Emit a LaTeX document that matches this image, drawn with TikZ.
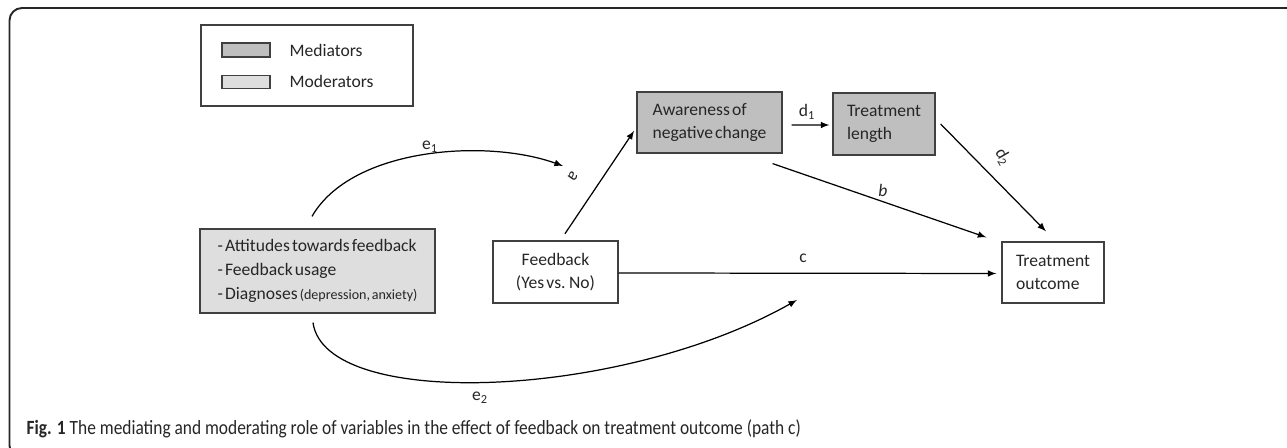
\documentclass[tikz,border=0pt]{standalone}
\usepackage{fontspec}
\setmainfont{Carlito}[WordSpace=0.55]
\newfontfamily\capfont{Carlito}[FakeStretch=0.86]

\begin{document}
\begin{tikzpicture}[>=latex, line width=0.7pt, font=\fontsize{10}{13.5}\selectfont, text=black!85,
    box/.style={draw=black!75, minimum height=1.22cm, inner ysep=0pt, align=left},
    medbox/.style={box, fill=black!25},
    modbox/.style={box, fill=black!13},
    lbl/.style={inner sep=0pt}]
    \useasboundingbox (0,0) rectangle (25.74,8.96);
    \draw[line width=1.1pt, black!85, rounded corners=0.25cm] (26,8.8) -- (0.19,8.8) -- (0.19,-0.2) -- (3,-0.2);

    \node[draw=black!75, minimum width=4.24cm, minimum height=1.62cm] at (6.14,7.65) (leg) {};
    \node[draw=black!75, fill=black!25, minimum width=0.96cm, minimum height=0.28cm, inner sep=0pt] at (4.92,7.96) (swmed) {};
    \node[draw=black!75, fill=black!13, minimum width=0.96cm, minimum height=0.25cm, inner sep=0pt] at (4.92,7.32) (swmod) {};
    \node[lbl, anchor=west] at (5.78,7.96) (tmed) {Mediators};
    \node[lbl, anchor=west] at (5.78,7.34) (tmod) {Moderators};

    \node[modbox, minimum height=1.68cm, minimum width=4.7cm] at (6.35,3.54) (Mod) {- Attitudes towards feedback\\- Feedback usage\\- Diagnoses {\fontsize{8}{10}\selectfont (depression, anxiety)}};
    \node[box, minimum height=1.24cm, minimum width=2.5cm, align=center] at (11.11,3.52) (FB) {Feedback\\(Yes vs. No)};
    \node[medbox, minimum width=2.9cm] at (14.19,6.51) (Aw) {Awareness of\\negative change};
    \node[medbox, minimum height=1.24cm, minimum width=2.04cm] at (17.68,6.48) (TL) {Treatment\\length};
    \node[box, fill=white, minimum width=2.04cm] at (21.06,3.51) (TO) {Treatment\\outcome};

    \coordinate (amid) at (11.26,5.64);
    \coordinate (cmid) at (15.94,2.96);

    \draw[->, shorten <=0.16cm, shorten >=0.08cm] ([xshift=0.1cm]FB.north) -- ([yshift=-0.1cm]Aw.west);
    \draw[->, shorten <=0.18cm, shorten >=0.06cm] ([yshift=-0.05cm]Aw.east) -- ([yshift=-0.02cm]TL.west);
    \draw[->] ([xshift=-0.2cm, yshift=-0.2cm]Aw.south east) -- ([xshift=-0.3cm, yshift=0.08cm]TO.north west);
    \draw[->] ([xshift=0.1cm]TL.east) -- ([xshift=-0.14cm, yshift=0.2cm]TO.north);
    \draw[->, shorten >=0.1cm] ([yshift=-0.02cm]FB.east) -- ([yshift=-0.02cm]TO.west);
    \draw[->] ([xshift=-0.11cm, yshift=0.24cm]Mod.north) to[out=60, in=160, looseness=0.8] (amid);
    \draw[->] ([xshift=-0.09cm, yshift=-0.18cm]Mod.south) .. controls +(0.24,-1.76) and +(-3.54,-2.0) .. (cmid);

    \node[lbl] at (8.6,6.02) (le1) {e\textsubscript{1}};
    \node[lbl] at (9.6,1.0) (le2) {e\textsubscript{2}};
    \node[lbl, rotate=-125] at (11.46,5.44) (la) {a};
    \node[lbl] at (16.14,6.72) (ld1) {d\textsubscript{1}};
    \node[lbl] at (17.66,5.16) (lb) {\textit{b}};
    \node[lbl, rotate=-60] at (20.06,5.82) (ld2) {d\textsubscript{2}};
    \node[lbl] at (16.06,3.8) (lc) {c};

    \node[lbl, anchor=west, font=\capfont\fontsize{11.5}{13}\selectfont] at (0.52,0.38) (cap) {\textbf{Fig. 1} The mediating and moderating role of variables in the effect of feedback on treatment outcome (path c)};
\end{tikzpicture}
\end{document}
